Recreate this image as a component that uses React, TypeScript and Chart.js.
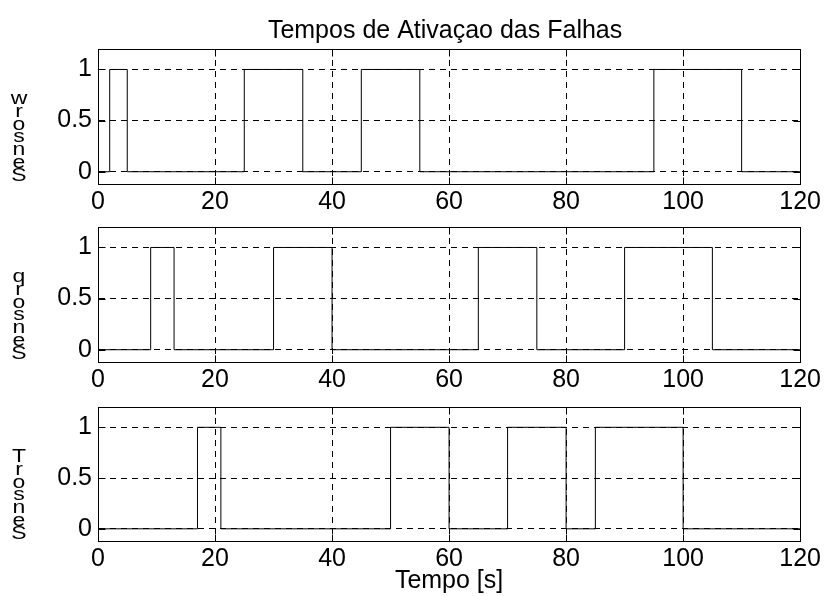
import React, { useEffect, useRef } from 'react';
import { Chart, registerables } from 'chart.js';

Chart.register(...registerables);

// ---- data ----
const xTickValues = [0, 20, 40, 60, 80, 100, 120];
const yTickValues = [0, 0.5, 1];
const yTickLabels = ['0', '0.5', '1'];

const timesW = [0, 2, 5, 25, 35, 45, 55, 95, 110, 120];
const stateW = [0, 1, 0, 1, 0, 1, 0, 1, 0, 0];
const timesQ = [0, 9, 13, 30, 40, 65, 75, 90, 105, 120];
const stateQ = [0, 1, 0, 1, 0, 1, 0, 1, 0, 0];
const timesT = [0, 17, 21, 50, 60, 70, 80, 85, 100, 120];
const stateT = [0, 1, 0, 1, 0, 1, 0, 1, 0, 0];

const panelLabels = ['Sensor w', 'Sensor q', 'Sensor T'];
const titleText = 'Tempos de Ativaçao das Falhas';
const xAxisText = 'Tempo [s]';

// ---- layout ----
const W = 824;
const H = 596;
const FONT = '"Liberation Sans", Arial, Helvetica, sans-serif';
const FONT_SIZE = 25;
const Y_AXIS_W = 60;
const X_AXIS_H = 34;
const PLOT_LEFT = 98;
const PLOT_RIGHT = 802;
const panelBoxes = [
  { top: 49, bottom: 184 },
  { top: 227, bottom: 362 },
  { top: 407, bottom: 541 },
];

function makeChart(canvas: HTMLCanvasElement, idx: number) {
  const series = [
    [timesW, stateW],
    [timesQ, stateQ],
    [timesT, stateT],
  ][idx];
  const box = panelBoxes[idx];
  const label = panelLabels[idx];

  const decor = {
    id: 'decor' + idx,
    afterDraw(chart: any) {
      const { ctx, chartArea: a } = chart;
      const x = chart.scales.x;
      const y = chart.scales.y;
      ctx.save();
      ctx.strokeStyle = '#000';
      ctx.lineWidth = 1;
      ctx.setLineDash([]);
      const L = Math.round(a.left) + 0.5;
      const R = Math.round(a.right) + 0.5;
      const T = Math.round(a.top) + 0.5;
      const B = Math.round(a.bottom) + 0.5;
      ctx.strokeRect(L, T, R - L, B - T);
      ctx.beginPath();
      for (const v of xTickValues) {
        const px = Math.round(x.getPixelForValue(v)) + 0.5;
        ctx.moveTo(px, B);
        ctx.lineTo(px, B - 7);
        ctx.moveTo(px, T);
        ctx.lineTo(px, T + 7);
      }
      for (const v of yTickValues) {
        const py = Math.round(y.getPixelForValue(v)) + 0.5;
        ctx.moveTo(L, py);
        ctx.lineTo(L + 7, py);
        ctx.moveTo(R, py);
        ctx.lineTo(R - 7, py);
      }
      ctx.stroke();

      ctx.fillStyle = '#000';
      // stacked y label letters (as in the reference)
      ctx.font = `23px ${FONT}`;
      ctx.textAlign = 'center';
      ctx.textBaseline = 'alphabetic';
      const letters = label.replace(/ /g, '').split('').reverse();
      letters.forEach((ch, i) => {
        ctx.save();
        ctx.translate(19, a.top + 55 + i * 12.8);
        ctx.scale(1, 0.78);
        ctx.fillText(ch, 0, 0);
        ctx.restore();
      });

      ctx.font = `${FONT_SIZE}px ${FONT}`;
      ctx.textBaseline = 'middle';
      const cx = (a.left + a.right) / 2;
      if (idx === 0) {
        ctx.fillText(titleText, cx - 4, 31);
      }
      if (idx === 2) {
        ctx.fillText(xAxisText, cx, 581);
      }
      ctx.restore();
    },
  };

  const gridCommon = {
    color: '#000',
    lineWidth: 1,
    drawTicks: false,
  };
  const borderCommon = {
    display: true,
    color: '#000',
    width: 1,
    dash: [6, 5],
  };

  return new Chart(canvas, {
    type: 'line',
    data: {
      datasets: [
        {
          label,
          data: series[0].map((t, i) => ({ x: t, y: series[1][i] })),
          borderColor: '#000',
          borderWidth: 1,
          pointRadius: 0,
          stepped: true,
          fill: false,
        },
      ],
    },
    options: {
      animation: false,
      responsive: false,
      events: [],
      layout: {
        padding: {
          left: PLOT_LEFT - Y_AXIS_W,
          right: W - PLOT_RIGHT,
          top: box.top,
          bottom: H - box.bottom - X_AXIS_H,
        },
      },
      plugins: {
        legend: { display: false },
        tooltip: { enabled: false },
        title: { display: false },
      },
      scales: {
        x: {
          type: 'linear',
          min: 0,
          max: 120,
          afterBuildTicks: (s: any) => {
            s.ticks = xTickValues.map((v) => ({ value: v }));
          },
          afterFit: (s: any) => {
            s.height = X_AXIS_H;
          },
          ticks: {
            color: '#000',
            font: { family: FONT, size: FONT_SIZE },
            padding: 3,
            maxRotation: 0,
            autoSkip: false,
            callback: (v: any) => String(v),
          },
          grid: gridCommon,
          border: borderCommon,
        },
        y: {
          type: 'linear',
          min: -0.12,
          max: 1.2,
          afterBuildTicks: (s: any) => {
            s.ticks = yTickValues.map((v) => ({ value: v }));
          },
          afterFit: (s: any) => {
            s.width = Y_AXIS_W;
          },
          ticks: {
            color: '#000',
            font: { family: FONT, size: FONT_SIZE },
            padding: 6,
            autoSkip: false,
            callback: (_v: any, i: number) => yTickLabels[i],
          },
          grid: gridCommon,
          border: borderCommon,
        },
      },
    },
    plugins: [decor],
  } as any);
}

function Panel({ idx }: { idx: number }) {
  const ref = useRef<HTMLCanvasElement | null>(null);
  useEffect(() => {
    if (!ref.current) return;
    const chart = makeChart(ref.current, idx);
    return () => chart.destroy();
  }, [idx]);
  return (
    <canvas
      ref={ref}
      width={W}
      height={H}
      style={{ position: 'absolute', left: 0, top: 0, width: W + 'px', height: H + 'px' }}
    />
  );
}

export default function App() {
  useEffect(() => {
    document.body.style.margin = '0';
    document.body.style.background = '#fff';
  }, []);
  return (
    <div style={{ position: 'fixed', left: 0, top: 0, width: W, height: H, background: '#fff' }}>
      <Panel idx={0} />
      <Panel idx={1} />
      <Panel idx={2} />
    </div>
  );
}
